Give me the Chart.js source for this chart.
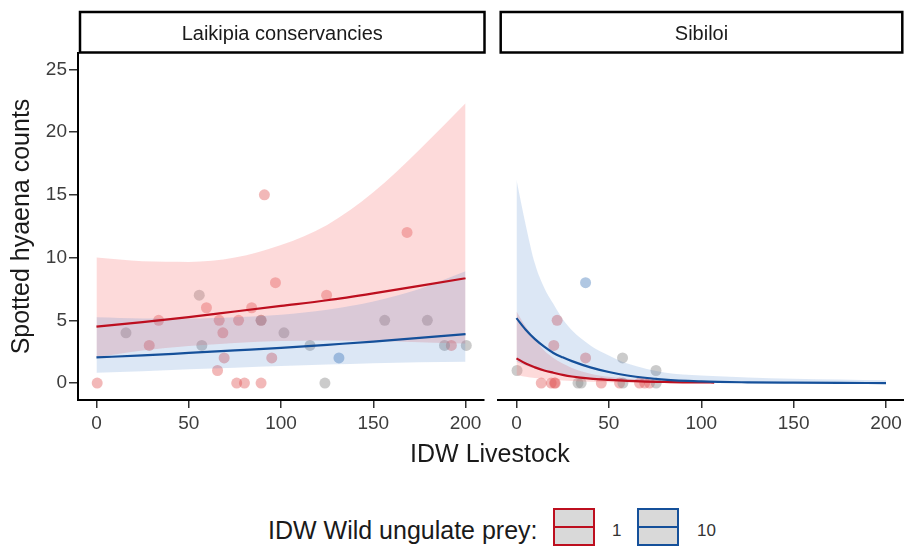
<!DOCTYPE html>
<html><head><meta charset="utf-8">
<script src="https://cdn.jsdelivr.net/npm/chart.js@4.4.0/dist/chart.umd.min.js"></script>
<style>
html,body{margin:0;padding:0;background:#fff;}
#wrap{position:relative;width:904px;height:547px;overflow:hidden;font-family:"Liberation Sans",Arial,sans-serif;background:#fff;}
#c1{position:absolute;left:0;top:0;}
#c2{position:absolute;left:490px;top:0;}
.t{position:absolute;white-space:nowrap;color:#1a1a1a;}
.key{position:absolute;width:38px;height:34px;border:2px solid;background:#d9d9d9;}
.kl{position:absolute;left:0;right:0;top:16px;height:2px;}
</style></head><body>
<div id="wrap">
<canvas id="c1" width="490" height="445"></canvas>
<canvas id="c2" width="420" height="445"></canvas>
<div class="t" id="xtitle" style="left:0;width:980px;text-align:center;top:438px;font-size:25px;line-height:30px;"></div>
<div class="t" id="legTitle" style="left:268px;top:515px;font-size:25px;line-height:30px;"></div>
<div class="key" id="key1" style="left:553px;top:508px;"><div class="kl" id="kl1"></div></div>
<div class="t" id="leg1" style="left:612px;top:518px;font-size:17px;line-height:26px;color:#333;"></div>
<div class="key" id="key2" style="left:637px;top:508px;"><div class="kl" id="kl2"></div></div>
<div class="t" id="leg2" style="left:697px;top:518px;font-size:17px;line-height:26px;color:#333;"></div>
</div>
<script>
// ---------- text ----------
const panelNames = ['Laikipia conservancies', 'Sibiloi'];
const xTitle = 'IDW Livestock';
const yTitle = 'Spotted hyaena counts';
const legendTitle = 'IDW Wild ungulate prey:';
const legendLabels = ['1', '10'];
const xTicks = [0, 50, 100, 150, 200];
const yTicks = [0, 5, 10, 15, 20, 25];

// ---------- Laikipia: predicted curves ----------
const laiX         = [0, 25, 50, 75, 100, 125, 150, 175, 200];
const laiRedFit    = [4.5, 4.85, 5.25, 5.7, 6.15, 6.6, 7.15, 7.75, 8.35];
const laiRedUpper  = [10.0, 9.7, 9.65, 10.0, 11.0, 12.6, 15.2, 18.6, 22.3];
const laiRedLower  = [2.05, 2.6, 2.95, 3.2, 3.35, 3.4, 3.35, 3.25, 3.15];
const laiBlueFit   = [2.05, 2.2, 2.4, 2.6, 2.8, 3.05, 3.3, 3.6, 3.9];
const laiBlueUpper = [5.25, 5.15, 5.15, 5.25, 5.45, 5.85, 6.5, 7.5, 8.9];
const laiBlueLower = [0.82, 0.95, 1.1, 1.22, 1.35, 1.47, 1.58, 1.65, 1.7];

// ---------- Laikipia: observed points ----------
const laiPtX   = [0.4, 28.6, 33.7, 59.6, 66.5, 65.6, 68.5, 69.2, 76, 77, 80.2, 84.1, 89.2, 89.2, 91, 95, 97, 124.7, 168.3, 192.3,
                  16, 55.7, 57.1, 89.2, 101.6, 115.7, 123.8, 156.2, 179.3, 188.6, 200.4, 131.4];
const laiPtY   = [0, 3, 5, 6, 5, 1, 4, 2, 0, 5, 0, 6, 5, 0, 15, 2, 8, 7, 12, 3,
                  4, 7, 3, 5, 4, 3, 0, 5, 5, 3, 3, 2];
const laiPtGrp = ['r','r','r','r','r','r','r','r','r','r','r','r','r','r','r','r','r','r','r','r',
                  'g','g','g','g','g','g','g','g','g','g','g','b'];

// ---------- Sibiloi: predicted curves ----------
const sibBlueX     = [0, 5, 10, 15, 20, 25, 30, 40, 50, 60, 80, 100, 125, 150, 175, 200];
const sibBlueFit   = [5.17, 4.25, 3.5, 2.9, 2.4, 2.05, 1.75, 1.25, 0.88, 0.6, 0.27, 0.13, 0.06, 0.03, 0.01, 0.0];
const sibBlueUpper = [16.2, 12.6, 9.5, 7.6, 6.3, 5.1, 4.2, 3.0, 2.2, 1.55, 0.85, 0.6, 0.45, 0.35, 0.28, 0.22];
const sibBlueLower = [1.7, 1.4, 1.15, 0.95, 0.75, 0.6, 0.5, 0.33, 0.22, 0.14, 0.06, 0.03, 0.01, 0, 0, 0];
const sibRedX      = [0, 5, 10, 15, 20, 25, 30, 40, 50, 60, 70, 80, 90, 100, 107];
const sibRedFit    = [1.97, 1.55, 1.25, 1.0, 0.82, 0.65, 0.52, 0.35, 0.25, 0.17, 0.12, 0.09, 0.06, 0.05, 0.04];
const sibRedUpper  = [5.7, 4.5, 3.5, 2.6, 2.0, 1.55, 1.2, 0.75, 0.5, 0.35, 0.25, 0.18, 0.14, 0.11, 0.1];
const sibRedLower  = [0.65, 0.5, 0.4, 0.32, 0.26, 0.2, 0.16, 0.1, 0.06, 0.04, 0.03, 0.02, 0.01, 0.01, 0.01];

// ---------- Sibiloi: observed points ----------
const sibPtX   = [22, 20.2, 37.4, 13.4, 18.8, 20.6, 21, 45.9, 55.8, 66.6, 69.4, 72,
                  0.3, 57.4, 75.5, 33.3, 35, 57.6, 75.6, 37.4];
const sibPtY   = [5, 3, 2, 0, 0, 0, 0, 0, 0, 0, 0, 0,
                  1, 2, 1, 0, 0, 0, 0, 8];
const sibPtGrp = ['r','r','r','r','r','r','r','r','r','r','r','r',
                  'g','g','g','g','g','g','g','b'];

// ---------- styles ----------
const FONT = '"Liberation Sans", Arial, sans-serif';
const RED = '#bd0f1f', BLUE = '#15509a';
const RED_FILL = 'rgba(248,118,118,0.27)', BLUE_FILL = 'rgba(60,120,200,0.18)';
const PT_COL = { r: 'rgba(225,85,85,0.42)', g: 'rgba(140,140,140,0.45)', b: 'rgba(80,130,190,0.45)' };

Chart.defaults.font.family = FONT;

function pts(xs, ys) { return xs.map((x, i) => ({ x: x, y: ys[i] })); }

function ribbon(xs, lo, up, fillCol) {
  return [
    { type: 'line', data: pts(xs, lo), borderWidth: 0, pointRadius: 0, fill: false, cubicInterpolationMode: 'monotone', order: 2 },
    { type: 'line', data: pts(xs, up), borderWidth: 0, pointRadius: 0, fill: '-1', backgroundColor: fillCol, cubicInterpolationMode: 'monotone', order: 2 }
  ];
}
function fitLine(xs, ys, col) {
  return { type: 'line', data: pts(xs, ys), borderColor: col, borderWidth: 2.2, pointRadius: 0, fill: false, cubicInterpolationMode: 'monotone', order: 1 };
}
function scatter(xs, ys, grp) {
  return { type: 'scatter', data: pts(xs, ys), backgroundColor: grp.map(g => PT_COL[g]), borderWidth: 0, pointRadius: 5.5, order: 3 };
}

const stripPlugin = {
  id: 'strip',
  afterDraw(chart, args, o) {
    const ctx = chart.ctx;
    ctx.save();
    ctx.fillStyle = '#fff';
    ctx.fillRect(o.x0, o.y0, o.x1 - o.x0, o.y1 - o.y0);
    ctx.lineWidth = 2.5;
    ctx.strokeStyle = '#000';
    ctx.strokeRect(o.x0, o.y0, o.x1 - o.x0, o.y1 - o.y0);
    ctx.fillStyle = '#1a1a1a';
    ctx.font = '20px ' + FONT;
    ctx.textAlign = 'center';
    ctx.textBaseline = 'middle';
    ctx.fillText(o.text, (o.x0 + o.x1) / 2, 34);
    ctx.restore();
  }
};

function xScale() {
  return {
    type: 'linear', min: -10, max: 210,
    afterBuildTicks: s => { s.ticks = xTicks.map(v => ({ value: v })); },
    ticks: { font: { size: 19 }, color: '#3d3d3d', padding: 4, maxRotation: 0, autoSkip: false },
    grid: { drawOnChartArea: false, drawTicks: true, tickLength: 8, color: '#333', lineWidth: 1.5 },
    border: { display: true, color: '#000', width: 2 },
    afterFit: s => { s.height = 45; s.paddingLeft = 0; s.paddingRight = 0; }
  };
}
function yScale(show) {
  return {
    type: 'linear', min: -1.35, max: 26.3, display: show,
    afterBuildTicks: s => { s.ticks = yTicks.map(v => ({ value: v })); },
    ticks: { font: { size: 19 }, color: '#3d3d3d', padding: 2 },
    grid: { drawOnChartArea: false, drawTicks: true, tickLength: 9, color: '#333', lineWidth: 1.5 },
    border: { display: true, color: '#000', width: 2 },
    title: { display: show, text: yTitle, font: { size: 25 }, color: '#1a1a1a', padding: { top: 7, bottom: 0 } },
    afterFit: s => { s.width = show ? 78 : 0; s.paddingTop = 0; s.paddingBottom = 0; }
  };
}
function baseOptions(padding, strip, showY) {
  return {
    responsive: false, animation: false, devicePixelRatio: 1,
    layout: { padding: padding },
    plugins: { legend: { display: false }, tooltip: { enabled: false }, strip: strip },
    events: [],
    scales: { x: xScale(), y: yScale(showY) }
  };
}

new Chart(document.getElementById('c1'), {
  type: 'line',
  data: { datasets: [
    scatter(laiPtX, laiPtY, laiPtGrp),
    ...ribbon(laiX, laiBlueLower, laiBlueUpper, BLUE_FILL),
    ...ribbon(laiX, laiRedLower, laiRedUpper, RED_FILL),
    fitLine(laiX, laiBlueFit, BLUE),
    fitLine(laiX, laiRedFit, RED)
  ] },
  options: baseOptions({ top: 53, right: 6, left: 0, bottom: 0 },
    { x0: 80, x1: 484.5, y0: 12, y1: 52.5, text: panelNames[0] }, true),
  plugins: [stripPlugin]
});

new Chart(document.getElementById('c2'), {
  type: 'line',
  data: { datasets: [
    scatter(sibPtX, sibPtY, sibPtGrp),
    ...ribbon(sibBlueX, sibBlueLower, sibBlueUpper, BLUE_FILL),
    ...ribbon(sibRedX, sibRedLower, sibRedUpper, RED_FILL),
    fitLine(sibBlueX, sibBlueFit, BLUE),
    fitLine(sibRedX, sibRedFit, RED)
  ] },
  options: baseOptions({ top: 53, right: 0, left: 8, bottom: 0 },
    { x0: 10.7, x1: 412.3, y0: 12, y1: 52.5, text: panelNames[1] }, false),
  plugins: [stripPlugin]
});

document.getElementById('xtitle').textContent = xTitle;
document.getElementById('legTitle').textContent = legendTitle;
document.getElementById('leg1').textContent = legendLabels[0];
document.getElementById('leg2').textContent = legendLabels[1];
document.getElementById('key1').style.borderColor = RED;
document.getElementById('kl1').style.background = RED;
document.getElementById('key2').style.borderColor = BLUE;
document.getElementById('kl2').style.background = BLUE;
</script>
</body></html>
